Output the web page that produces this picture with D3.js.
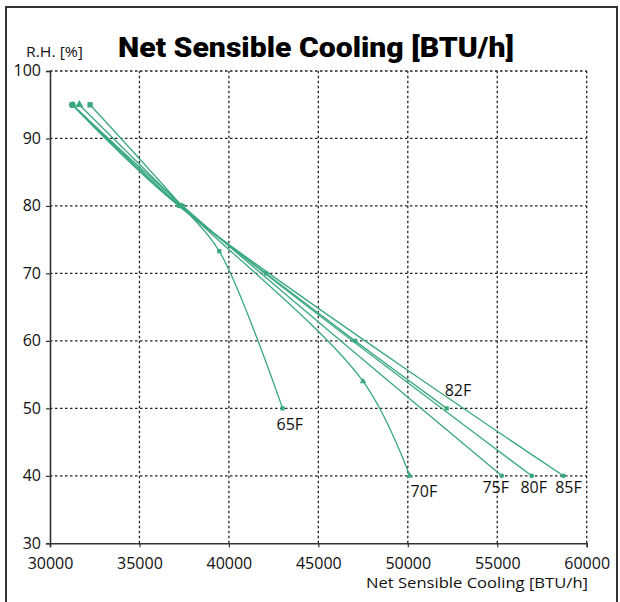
<!DOCTYPE html>
<html>
<head>
<meta charset="utf-8">
<script src="https://cdn.jsdelivr.net/npm/d3@7"></script>
<style>
  body { margin: 0; background: #fff; }
  svg { display: block; }
</style>
</head>
<body>
<svg class="nsc" width="620" height="602"></svg>
<script>
// tick values
const xTicks = [30000, 35000, 40000, 45000, 50000, 55000, 60000];
const yTicks = [30, 40, 50, 60, 70, 80, 90, 100];

// series: net sensible cooling [BTU/h] vs R.H. [%]
const seriesNames = ['65F', '70F', '75F', '80F', '82F', '85F'];
const cap65 = [32240, 37360, 39460, 43000];
const rh65  = [95, 80, 73.3, 50];
const cap70 = [31640, 37360, 47500, 50100];
const rh70  = [95, 80, 54, 40];
const cap75 = [31250, 37420, 55250];
const rh75  = [95, 80, 40];
const cap80 = [31250, 37300, 56925];
const rh80  = [95, 80, 40];
const cap82 = [31250, 37250, 42075, 47050, 52175];
const rh82  = [95, 80, 70, 60, 50];
const cap85 = [31250, 37200, 58700];
const rh85  = [95, 80, 40];

function drawChart(){
  const svg = d3.select('svg.nsc');
  const green = '#3aa87f';
  const font = "'Open Sans', 'Noto Sans', sans-serif";

  const x = d3.scaleLinear().domain([30000, 60000]).range([50, 586.7]);
  const y = d3.scaleLinear().domain([30, 100]).range([543.3, 71]);

  const series = [
    { name: seriesNames[0], cap: cap65, rh: rh65, marker: d3.symbolSquare, dx: -6, dy: 22, anchor: 'start' },
    { name: seriesNames[1], cap: cap70, rh: rh70, marker: d3.symbolTriangle, dx: 1, dy: 21, anchor: 'start' },
    { name: seriesNames[2], cap: cap75, rh: rh75, marker: d3.symbolCircle, dx: -6, dy: 17, anchor: 'middle' },
    { name: seriesNames[3], cap: cap80, rh: rh80, marker: d3.symbolCircle, dx: 2, dy: 17, anchor: 'middle' },
    { name: seriesNames[4], cap: cap82, rh: rh82, marker: d3.symbolSquare, dx: -2, dy: -12, anchor: 'start' },
    { name: seriesNames[5], cap: cap85, rh: rh85, marker: d3.symbolCircle, dx: 5, dy: 17, anchor: 'middle' }
  ];

  // outer frame
  svg.append('rect')
    .attr('x', 6)
    .attr('y', 7)
    .attr('width', 611)
    .attr('height', 620)
    .style('fill', 'none')
    .style('stroke', '#333')
    .style('stroke-width', 2);

  // grid
  const grid = svg.append('g').attr('class', 'grid');
  grid.selectAll('line.vgrid')
    .data(xTicks.slice(1))
    .enter()
    .append('line')
    .attr('class', 'vgrid')
    .attr('x1', d => x(d))
    .attr('x2', d => x(d))
    .attr('y1', y(30))
    .attr('y2', y(100));
  grid.selectAll('line.hgrid')
    .data(yTicks.slice(1))
    .enter()
    .append('line')
    .attr('class', 'hgrid')
    .attr('x1', x(30000))
    .attr('x2', x(60000))
    .attr('y1', d => y(d))
    .attr('y2', d => y(d));
  grid.selectAll('line')
    .style('stroke', '#222')
    .style('stroke-width', 1.3)
    .style('stroke-dasharray', '2.5,2.5');

  // axes
  const xAxis = d3.axisBottom(x).tickValues(xTicks).tickSize(4).tickFormat(d3.format('d'));
  const yAxis = d3.axisLeft(y).tickValues(yTicks).tickSize(4).tickFormat(d3.format('d'));

  const gx = svg.append('g')
    .attr('transform', `translate(0, ${y(30)})`)
    .call(xAxis);
  const gy = svg.append('g')
    .attr('transform', `translate(${x(30000)}, 0)`)
    .call(yAxis);

  [gx, gy].forEach(g => {
    g.select('.domain').style('stroke', '#333').style('stroke-width', 1.6);
    g.selectAll('.tick line').style('stroke', '#333').style('stroke-width', 1.2);
    g.selectAll('.tick text')
      .style('font-family', font)
      .style('font-size', '16px')
      .style('fill', '#111');
  });
  gx.selectAll('.tick text').attr('y', 25.5).attr('dy', null);
  gy.selectAll('.tick text').attr('x', -9).attr('dy', '0.3em');

  // curves
  const line = d3.line()
    .x(d => x(d[0]))
    .y(d => y(d[1]))
    .curve(d3.curveCatmullRom.alpha(0.5));

  const sG = svg.append('g').attr('class', 'series');
  series.forEach(s => {
    const pts = s.cap.map((c, i) => [c, s.rh[i]]);
    sG.append('path')
      .attr('d', line(pts))
      .style('fill', 'none')
      .style('stroke', green)
      .style('stroke-width', 1.3);

    sG.selectAll(null)
      .data(pts)
      .enter()
      .append('path')
      .attr('transform', d => `translate(${x(d[0])}, ${y(d[1])})`)
      .attr('d', (d, i) => d3.symbol().type(s.marker).size(i === 0 ? 28 : 18)())
      .style('fill', green);

    const last = pts[pts.length - 1];
    sG.append('text')
      .attr('x', x(last[0]) + s.dx)
      .attr('y', y(last[1]) + s.dy)
      .text(s.name)
      .style('text-anchor', s.anchor)
      .style('font-family', font)
      .style('font-size', '16px')
      .style('fill', '#111');
  });

  // titles
  svg.append('text')
    .attr('x', 118)
    .attr('y', 57)
    .attr('textLength', 396)
    .attr('lengthAdjust', 'spacingAndGlyphs')
    .text('Net Sensible Cooling [BTU/h]')
    .style('font-family', "'Roboto', 'Liberation Sans', sans-serif")
    .style('font-weight', 900)
    .style('font-size', '27px')
    .style('fill', '#000');

  svg.append('text')
    .attr('x', 26)
    .attr('y', 57)
    .attr('textLength', 57)
    .attr('lengthAdjust', 'spacingAndGlyphs')
    .text('R.H. [%]')
    .style('font-family', font)
    .style('font-size', '15px')
    .style('fill', '#111');

  svg.append('text')
    .attr('x', 366)
    .attr('y', 587.5)
    .attr('textLength', 222)
    .attr('lengthAdjust', 'spacingAndGlyphs')
    .text('Net Sensible Cooling [BTU/h]')
    .style('font-family', font)
    .style('font-size', '14.5px')
    .style('fill', '#111');
}

drawChart();
</script>
</body>
</html>
